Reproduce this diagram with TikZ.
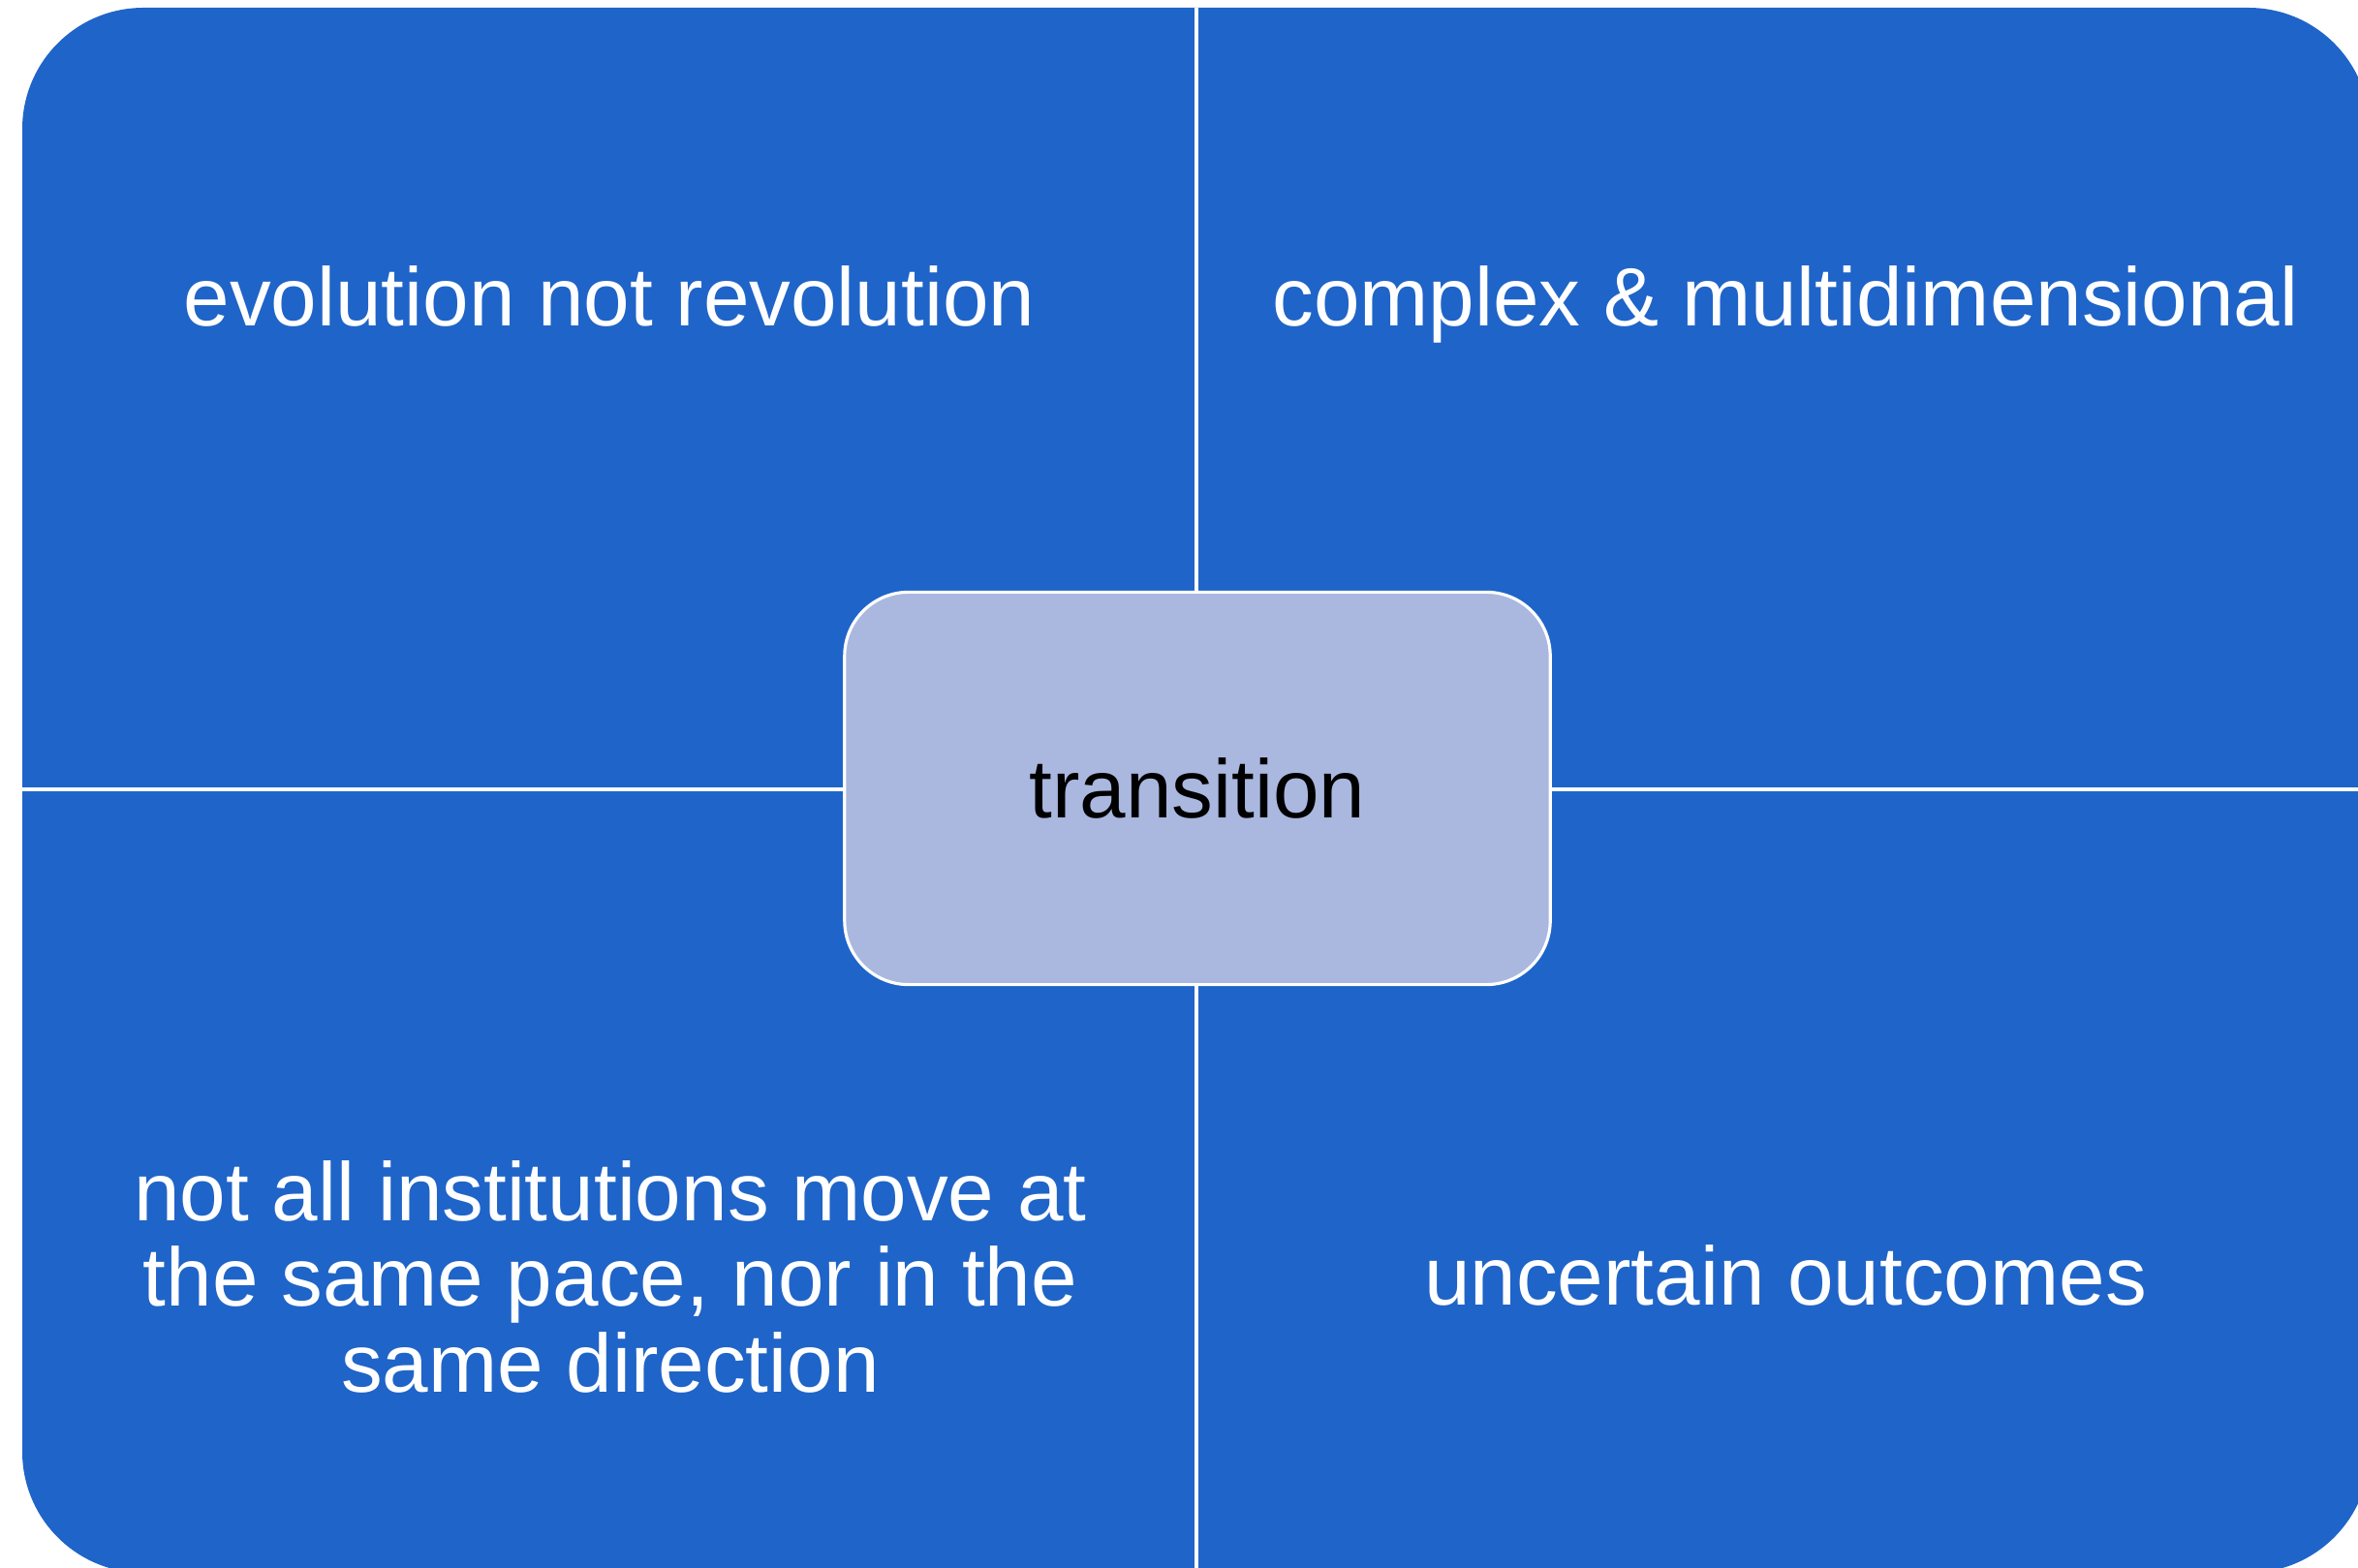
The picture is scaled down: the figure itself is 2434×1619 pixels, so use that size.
\documentclass[tikz,border=0pt]{standalone}
\usepackage{fontspec}
\setmainfont{Liberation Sans}
\definecolor{quadblue}{RGB}{31,100,200}
\definecolor{hubfill}{RGB}{170,184,224}
\begin{document}
\begin{tikzpicture}[x=0.01cm,y=-0.01cm,
  quadtext/.style={text=white, font=\fontsize{24.3}{25.1}\selectfont, align=center, inner sep=0pt, anchor=base},
  hub/.style={draw=white, line width=0.9pt, fill=hubfill, rounded corners=0.66cm,
    minimum width=7.28cm, minimum height=4.05cm, inner sep=0pt,
    font=\fontsize{24.3}{25.1}\selectfont, text=black},
  divider/.style={draw=white, line width=0.9pt}]
\clip (0,0) rectangle (2434,1619);
\fill[quadblue, rounded corners=1.25cm] (23,8) rectangle (2446,1624);
\coordinate (vtop) at (1235,8);
\coordinate (vbot) at (1235,1624);
\coordinate (hleft) at (23,815);
\coordinate (hright) at (2446,815);
\draw[divider] (vtop) -- (vbot);
\draw[divider] (hleft) -- (hright);
\node[hub] (hub) at (1236,814) {transition};
\node[quadtext] (tl) at (629,337) {evolution not revolution};
\node[quadtext] (tr) at (1843,337) {complex \& multidimensional};
\node[quadtext] (bl) at (630,1437) {not all institutions move at\\the same pace, nor in the\\same direction};
\node[quadtext] (br) at (1843,1347) {uncertain outcomes};
\end{tikzpicture}
\end{document}
